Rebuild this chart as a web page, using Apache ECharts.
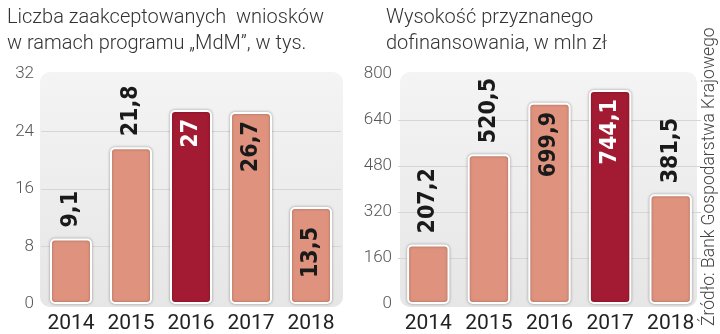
<!DOCTYPE html>
<html>
<head>
<meta charset="utf-8">
<script src="https://cdn.jsdelivr.net/npm/echarts@6/dist/echarts.min.js"></script>
<style>
  html, body { margin: 0; padding: 0; background: #fff; }
  #root { width: 720px; height: 334px; }
</style>
</head>
<body>
<div id="root"></div>
<script>
var years = ['2014', '2015', '2016', '2017', '2018'];
var applications = [9.1, 21.8, 27, 26.7, 13.5];
var funding = [207.2, 520.5, 699.9, 744.1, 381.5];
var applicationsTicks = [0, 8, 16, 24, 32];
var fundingTicks = [0, 160, 320, 480, 640, 800];

var titleLeft = 'Liczba zaakceptowanych  wniosków\nw ramach programu „MdM”, w tys.';
var titleRight = 'Wysokość przyznanego\ndofinansowania, w mln zł';
var source = 'Źródło: Bank Gospodarstwa Krajowego';

// which bar is highlighted, which labels sit inside the bar
var leftHighlight = 2, rightHighlight = 3;
var leftInside = [false, false, true, true, true];
var rightInside = [false, false, true, true, false];

var light = '#df937e';
var dark = '#a31b32';
var labelFont = '"Liberation Sans Narrow", "DejaVu Sans Condensed", sans-serif';

function fmt (v) {
  return String(v).replace('.', ',');
}

function buildData (values, highlight, inside) {
  return values.map(function (v, i) {
    var isDark = i === highlight;
    return {
      value: v,
      itemStyle: { color: isDark ? dark : light },
      label: inside[i] ? {
        position: 'insideTop',
        align: 'right',
        distance: (i === 4 && values === applications) ? 20 : 9,
        color: isDark ? '#fff' : '#1a1a1a'
      } : {
        position: 'top',
        align: 'left',
        distance: 11,
        color: '#1a1a1a'
      }
    };
  });
}

function barSeries (idx, values, highlight, inside) {
  return {
    type: 'bar',
    xAxisIndex: idx,
    yAxisIndex: idx,
    barWidth: '70%',
    data: buildData(values, highlight, inside),
    itemStyle: {
      borderColor: '#fff',
      borderWidth: 2,
      borderRadius: 4,
      shadowColor: 'rgba(0,0,0,0.3)',
      shadowBlur: 3
    },
    label: {
      show: true,
      rotate: 90,
      verticalAlign: 'middle',
      fontFamily: labelFont,
      fontWeight: 'bold',
      fontSize: 23,
      formatter: function (p) { return fmt(p.value); }
    }
  };
}

function yAxis (idx, ticks, margin) {
  return {
    type: 'value',
    gridIndex: idx,
    min: ticks[0],
    max: ticks[ticks.length - 1],
    interval: ticks[1] - ticks[0],
    axisLine: { show: false },
    axisTick: { show: false },
    axisLabel: {
      margin: margin,
      color: '#555',
      fontSize: 17,
      fontFamily: 'Roboto',
      fontWeight: 300
    },
    splitLine: {
      showMinLine: false,
      showMaxLine: false,
      lineStyle: { color: '#d6d6d6', width: 1 }
    }
  };
}

function xAxis (idx) {
  return {
    type: 'category',
    gridIndex: idx,
    data: years,
    axisLine: { show: false },
    axisTick: { show: false },
    axisLabel: {
      interval: 0,
      margin: 9,
      color: '#222',
      fontSize: 21,
      fontFamily: 'Roboto'
    }
  };
}

var bgFill = new echarts.graphic.LinearGradient(0, 0, 0, 1, [
  { offset: 0, color: '#f4f4f4' },
  { offset: 1, color: '#e6e6e6' }
]);

var chart = echarts.init(document.getElementById('root'), null, { renderer: 'canvas' });

chart.setOption({
  animation: false,
  backgroundColor: '#fff',
  title: [
    {
      text: titleLeft, left: 2, top: 0,
      textStyle: { fontFamily: 'Roboto', fontWeight: 300, fontSize: 20, color: '#333', lineHeight: 26 }
    },
    {
      text: titleRight, left: 381, top: 0,
      textStyle: { fontFamily: 'Roboto', fontWeight: 300, fontSize: 20, color: '#333', lineHeight: 26 }
    }
  ],
  graphic: [
    {
      type: 'rect', z: -10,
      shape: { x: 40, y: 72, width: 303, height: 235, r: 10 },
      style: { fill: bgFill }
    },
    {
      type: 'rect', z: -10,
      shape: { x: 400, y: 72, width: 297, height: 235, r: 10 },
      style: { fill: bgFill }
    },
    {
      type: 'text',
      x: 701, y: 326,
      rotation: Math.PI / 2,
      style: {
        text: source,
        fontFamily: 'Roboto',
        fontWeight: 300,
        fontSize: 17.5,
        fill: '#444',
        textAlign: 'left',
        textVerticalAlign: 'top'
      }
    }
  ],
  grid: [
    { left: 41, right: 379, top: 74, bottom: 29 },
    { left: 398, right: 19, top: 74, bottom: 29 }
  ],
  xAxis: [xAxis(0), xAxis(1)],
  yAxis: [yAxis(0, applicationsTicks, 7), yAxis(1, fundingTicks, 6)],
  series: [
    barSeries(0, applications, leftHighlight, leftInside),
    barSeries(1, funding, rightHighlight, rightInside)
  ]
});
</script>
</body>
</html>
